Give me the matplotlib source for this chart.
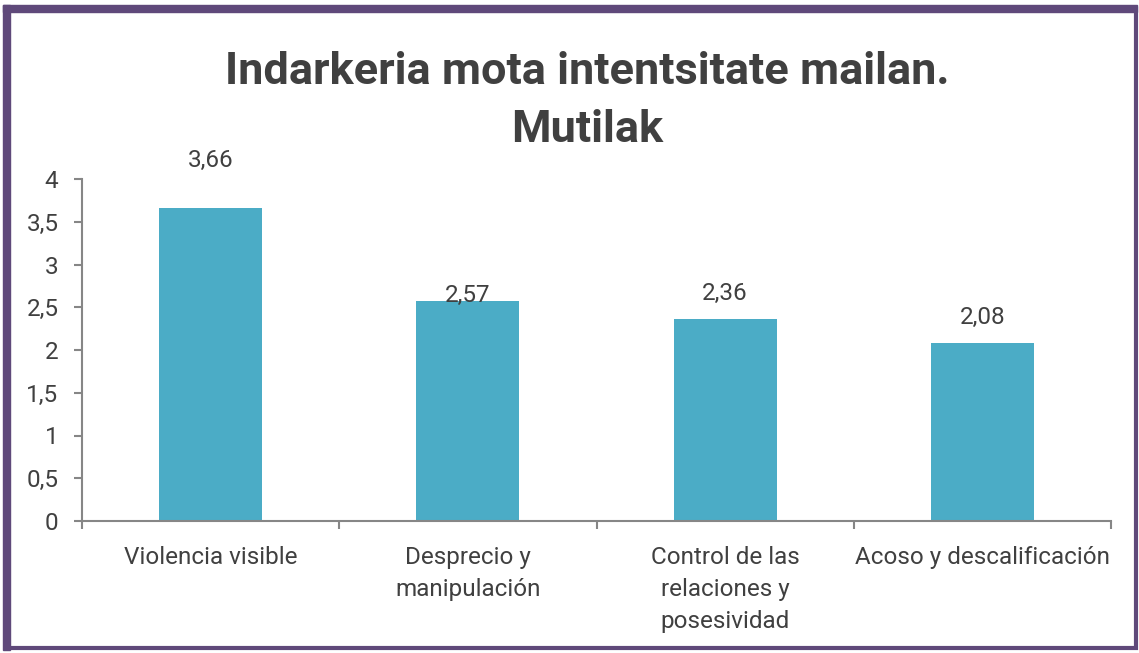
import matplotlib
matplotlib.use("Agg")
import matplotlib.pyplot as plt
from matplotlib.patches import Rectangle
from matplotlib.ticker import FuncFormatter, MultipleLocator

categories = ["Violencia visible", "Desprecio y\nmanipulación",
              "Control de las\nrelaciones y\nposesividad", "Acoso y descalificación"]
values = [3.66, 2.57, 2.36, 2.08]
value_labels = ["3,66", "2,57", "2,36", "2,08"]
label_offsets = [0.56, 0.07, 0.30, 0.30]
title = "Indarkeria mota intentsitate mailan.\nMutilak"

fam = ["Roboto", "DejaVu Sans"]
text_color = "#404040"
axis_color = "#868686"
bar_color = "#4BACC6"

fig = plt.figure(figsize=(11.39, 6.53), dpi=100)
W, H = 1139, 653
ax = fig.add_axes([82 / W, 1 - 521 / H, (1111 - 82) / W, (521 - 179) / H])

x = range(len(categories))
ax.bar(x, values, width=0.4, color=bar_color, zorder=2)
for i, (v, lab, off) in enumerate(zip(values, value_labels, label_offsets)):
    ax.text(i, v + off, lab, ha="center", va="center", fontsize=17.5,
            color=text_color, family=fam)

ax.set_xlim(-0.5, len(categories) - 0.5)
ax.set_ylim(0, 4)
ax.yaxis.set_major_locator(MultipleLocator(0.5))
ax.yaxis.set_major_formatter(FuncFormatter(lambda v, p: f"{v:g}".replace(".", ",")))
ax.set_xticks(list(x))
ax.set_xticklabels(categories, fontsize=17.5, color=text_color, family=fam, linespacing=1.5)
ax.set_xticks([i - 0.5 for i in range(len(categories) + 1)], minor=True)
ax.tick_params(axis="x", which="major", length=0, pad=18)
ax.tick_params(axis="x", which="minor", length=6, color=axis_color, width=1.5)
ax.tick_params(axis="y", length=6, color=axis_color, width=1.5, labelsize=17.5,
               labelcolor=text_color, pad=11)
for lab in ax.get_yticklabels():
    lab.set_family(fam)
for s in ["top", "right"]:
    ax.spines[s].set_visible(False)
for s in ["left", "bottom"]:
    ax.spines[s].set_color(axis_color)
    ax.spines[s].set_linewidth(1.5)

fig.text(587 / W, 1 - 101 / H, title, ha="center", va="center", fontsize=32.5,
         fontweight="bold", color=text_color, family=fam, linespacing=1.5)

# purple frame
border = "#5F497A"
fig.patches.append(Rectangle((6.5 / W, 1 - 648 / H), (1136 - 6.5) / W, (648 - 9) / H,
                             transform=fig.transFigure, fill=False,
                             edgecolor=border, linewidth=3))
fig.patches.append(Rectangle((3 / W, 1 - 650 / H), 7 / W, (650 - 5) / H,
                             transform=fig.transFigure, color=border))
fig.patches.append(Rectangle((3 / W, 1 - 12 / H), (1137 - 3) / W, 7 / H,
                             transform=fig.transFigure, color=border))

fig.savefig("out.png", dpi=100)
